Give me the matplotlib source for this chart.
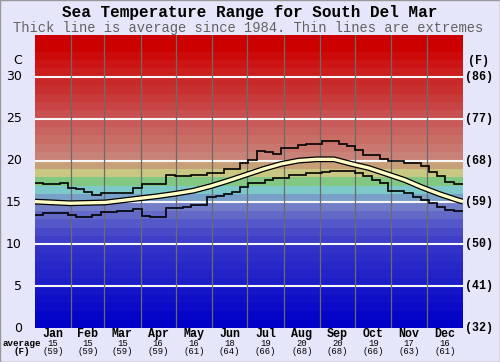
import matplotlib
matplotlib.use("Agg")
import matplotlib.pyplot as plt
import numpy as np

# ---------------- data ----------------
months = ["Jan", "Feb", "Mar", "Apr", "May", "Jun", "Jul", "Aug", "Sep", "Oct", "Nov", "Dec"]
month_days = [31, 28, 31, 30, 31, 30, 31, 31, 30, 31, 30, 31]
month_avg_c = [15, 15, 15, 16, 16, 18, 19, 20, 20, 19, 17, 16]
month_avg_f = [59, 59, 59, 59, 61, 64, 66, 68, 68, 66, 63, 61]

c_ticks = [0, 5, 10, 15, 20, 25, 30]
f_labels = ["(32)", "(41)", "(50)", "(59)", "(68)", "(77)", "(86)"]

# average (thick line), sampled every 15 days (+ day 365)
avg_days = [0, 15, 30, 45, 60, 75, 90, 105, 120, 135, 150, 165, 180, 195,
            210, 225, 240, 255, 270, 285, 300, 315, 330, 345, 360, 365]
avg_temp = [15.1, 15.0, 14.9, 14.95, 15.0, 15.25, 15.5, 15.75, 16.05, 16.4,
            16.95, 17.6, 18.3, 19.0, 19.6, 20.0, 20.15, 20.15, 19.6, 19.1,
            18.4, 17.7, 16.8, 16.0, 15.3, 15.1]

# weekly extremes (week w covers days 7w .. 7w+7)
max_weekly = [17.3, 17.2, 17.2, 17.3, 16.7, 16.6, 16.3, 15.9, 16.1, 16.1,
              16.1, 16.1, 16.7, 17.2, 17.2, 17.2, 18.3, 18.1, 18.1, 18.3,
              18.3, 18.5, 18.5, 19.0, 19.0, 19.7, 20.1, 21.1, 21.0, 20.8,
              21.5, 21.5, 21.9, 22.0, 22.0, 22.3, 22.3, 22.0, 21.7, 21.3,
              20.7, 20.7, 20.2, 19.9, 19.9, 19.7, 19.7, 19.3, 18.6, 18.1,
              17.5, 17.2, 17.2]
min_weekly = [13.5, 13.7, 13.7, 13.7, 13.5, 13.3, 13.2, 13.5, 13.8, 13.8,
              14.0, 14.0, 14.2, 13.4, 13.3, 13.3, 14.3, 14.3, 14.5, 14.7,
              14.7, 15.7, 15.8, 16.0, 16.3, 16.8, 17.3, 17.3, 17.7, 17.9,
              17.9, 18.3, 18.3, 18.5, 18.5, 18.6, 18.7, 18.7, 18.7, 18.5,
              18.2, 17.7, 17.3, 16.4, 16.4, 16.1, 15.6, 15.3, 14.9, 14.4,
              14.1, 14.0, 14.0]

# colour of each 1 degree band, 0..34 C
band_rgb = [(0, 0, 200), (5, 5, 200), (10, 10, 200), (15, 15, 200), (20, 20, 200),
            (30, 30, 200), (35, 35, 200), (40, 40, 200), (45, 45, 200), (50, 50, 200),
            (62, 62, 200), (72, 72, 200), (85, 88, 200), (100, 105, 200), (115, 125, 200),
            (120, 160, 200), (125, 200, 200), (130, 200, 130), (200, 200, 130), (200, 160, 120),
            (200, 130, 120), (200, 120, 110), (200, 110, 100), (200, 100, 95), (200, 90, 90),
            (200, 80, 80), (200, 68, 68), (200, 58, 58), (200, 48, 48), (200, 40, 40),
            (205, 30, 30), (205, 20, 20), (205, 10, 10), (205, 0, 0), (205, 0, 0)]

# ---------------- figure ----------------
W, H = 500, 362
bg = (230 / 255, 230 / 255, 250 / 255)
fig = plt.figure(figsize=(W / 100, H / 100), dpi=100, facecolor=bg)

L, R, T, B = 35, 463, 35, 328
ax = fig.add_axes([L / W, 1 - B / H, (R - L) / W, (B - T) / H])
ax.set_xlim(0, 365)
ax.set_ylim(0, 35)
ax.axis("off")

for t, rgb in enumerate(band_rgb):
    ax.axhspan(t, t + 1, color=tuple(c / 255 for c in rgb), lw=0, zorder=0)

for c in c_ticks[1:]:
    ax.axhline(c, color=(0.97, 0.97, 0.97), lw=1.5, zorder=1)

bounds = np.cumsum(month_days)
for b in bounds[:-1]:
    ax.axvline(b, color=(0.42, 0.42, 0.42), lw=0.9, zorder=1)

# extremes as weekly steps
wk_edges = [min(7 * w, 365) for w in range(len(max_weekly))] + [365]
ax.stairs(max_weekly, wk_edges, baseline=None, color="black", lw=1.2, zorder=3)
ax.stairs(min_weekly, wk_edges, baseline=None, color="black", lw=1.2, zorder=3)

# average
ax.plot(avg_days, avg_temp, color="black", lw=4.2, solid_capstyle="butt", zorder=4)
ax.plot(avg_days, avg_temp, color=(1.0, 1.0, 0.78), lw=2.4, solid_capstyle="butt", zorder=5)

# ---------------- text ----------------
def px(x, y):
    return x / W, 1 - y / H

mono = "Liberation Mono"
fig.text(*px(250, 13), "Sea Temperature Range for South Del Mar", ha="center", va="center",
         family=mono, weight="bold", fontsize=11.5, color="black")
fig.text(*px(248, 28), "Thick line is average since 1984. Thin lines are extremes",
         ha="center", va="center", family=mono, fontsize=9.9, color=(0.38, 0.38, 0.38))

def ypix(c):
    return B - (B - T) * c / 35.0

for c, fl in zip(c_ticks, f_labels):
    fig.text(*px(22, ypix(c)), str(c), ha="right", va="center", family="DejaVu Sans",
             fontsize=9, color="black")
    fig.text(*px(465, ypix(c)), fl, ha="left", va="center", family=mono, weight="bold",
             fontsize=8.4, color="black")
fig.text(*px(22, 61), "C", ha="right", va="center", family="DejaVu Sans", fontsize=9)
fig.text(*px(479, 61), "(F)", ha="center", va="center", family=mono, weight="bold", fontsize=8.4)

starts = np.concatenate([[0], bounds[:-1]])
for m, s, d, ac, af in zip(months, starts, month_days, month_avg_c, month_avg_f):
    xc = L + (R - L) * (s + d / 2) / 365.0
    fig.text(*px(xc, 334), m, ha="center", va="center", family=mono, weight="bold", fontsize=8.4)
    fig.text(*px(xc, 343), str(ac), ha="center", va="center", family=mono, fontsize=6.4)
    fig.text(*px(xc, 352), "(%d)" % af, ha="center", va="center", family=mono, fontsize=6.4)
fig.text(*px(22, 343), "average", ha="center", va="center", family=mono, weight="bold", fontsize=6.6)
fig.text(*px(22, 352), "(F)", ha="center", va="center", family=mono, weight="bold", fontsize=6.6)

# thin outer frame
fig.patches.append(plt.Rectangle((0, 0), 1, 1, transform=fig.transFigure, fill=False,
                                 edgecolor=(0.6, 0.6, 0.6), lw=1.0))

fig.savefig("out.png", dpi=100, facecolor=bg)
